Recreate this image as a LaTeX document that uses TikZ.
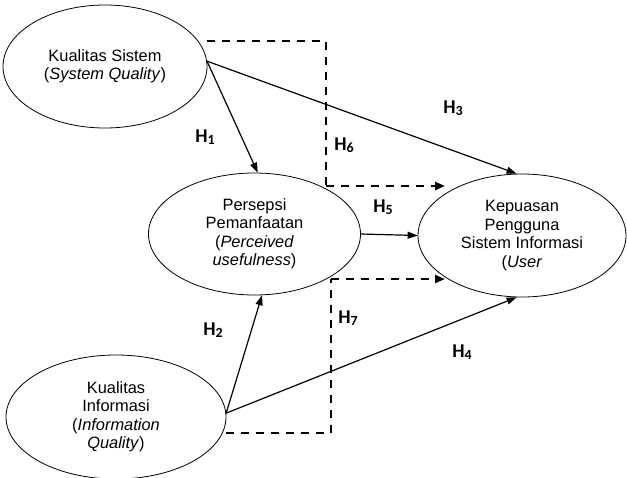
\documentclass[tikz,border=0pt]{standalone}
\usepackage{fontspec}
\setmainfont{Liberation Sans}
\newfontfamily\lblfont{Carlito}
\usetikzlibrary{arrows.meta,shapes.geometric}
\tikzset{
  var/.style={draw, ellipse, line width=0.8pt, inner sep=0pt, align=center,
    font=\fontsize{16.4}{18.5}\selectfont},
  solidarrow/.style={line width=1.2pt, -{Triangle[length=10pt,width=7pt]}},
  dasharrow/.style={line width=2.3pt, dash pattern=on 8pt off 7pt, -{Triangle[length=10pt,width=8pt]}},
  dashline/.style={line width=2.3pt, dash pattern=on 8pt off 7pt},
  hlabel/.style={font=\lblfont\bfseries\fontsize{19.5}{19.5}\selectfont, inner sep=0pt}
}
\newcommand{\hyp}[1]{H\raisebox{-0.12em}{\fontsize{14}{14}\selectfont #1}}
\begin{document}
\begin{tikzpicture}[x=1pt,y=-1pt]
\useasboundingbox[fill=white] (0,0) rectangle (627,477);
\node[var, minimum width=204pt, minimum height=123pt] (e1) at (105,66.5)
  {Kualitas Sistem\\(\textit{System Quality})};
\node[var, minimum width=212pt, minimum height=122pt] (e2) at (254.5,234)
  {Persepsi\\Pemanfaatan\\(\textit{Perceived}\\\textit{usefulness})};
\node[var, minimum width=208pt, minimum height=123pt] (e3) at (522,235.5)
  {Kepuasan\\Pengguna\\Sistem Informasi\\(\textit{User}};
\node[var, minimum width=220pt, minimum height=124pt] (e4) at (116,417)
  {Kualitas\\Informasi\\(\textit{Information}\\\textit{Quality})};

\coordinate (c6) at (326,41);
\coordinate (t6) at (445,186);
\coordinate (c7) at (331,433);
\coordinate (t7) at (445,279);

\draw[solidarrow] (e1.3) -- (e2.87);
\draw[solidarrow] (e1.3) -- (e3.95);
\draw[solidarrow] (e2.east) -- (e3.west);
\draw[solidarrow] (e4.2) -- (e2.-83);
\draw[solidarrow] (e4.2) -- (e3.-95);

\draw[dashline] (e1.east |- c6) -- (c6) -- (c6 |- t6);
\draw[dasharrow] (c6 |- t6) -- (t6);
\draw[dashline] (e4.east |- c7) -- (c7) -- (c7 |- t7);
\draw[dasharrow] (c7 |- t7) -- (t7);

\node[hlabel] (h1) at (205,137) {\hyp{1}};
\node[hlabel] (h2) at (213,330) {\hyp{2}};
\node[hlabel] (h3) at (453,108) {\hyp{3}};
\node[hlabel] (h4) at (462,352) {\hyp{4}};
\node[hlabel] (h5) at (383,207) {\hyp{5}};
\node[hlabel] (h6) at (344,145) {\hyp{6}};
\node[hlabel] (h7) at (348,318) {\hyp{7}};
\end{tikzpicture}
\end{document}
